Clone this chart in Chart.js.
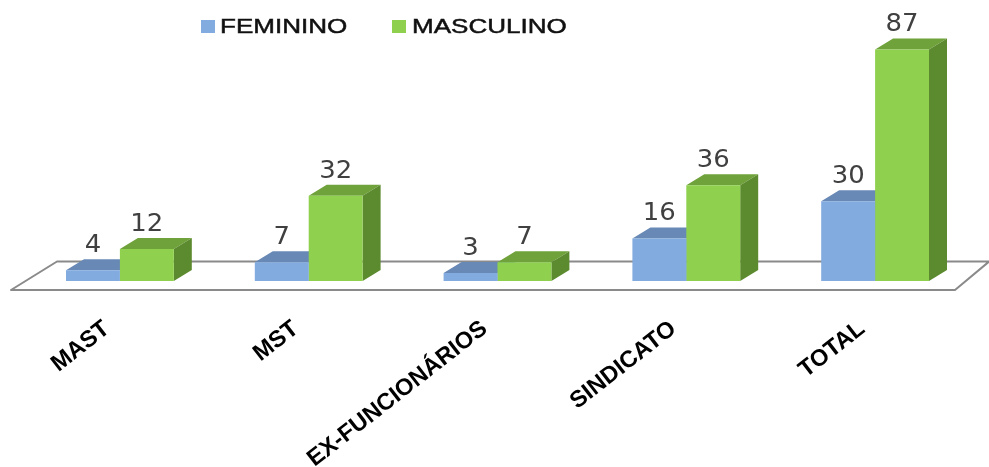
<!DOCTYPE html>
<html><head><meta charset="utf-8">
<style>html,body{margin:0;padding:0;background:#fff;overflow:hidden}
#w{position:relative;width:989px;height:467px}
canvas{filter:blur(0.5px)}</style>
<script src="https://cdn.jsdelivr.net/npm/chart.js@4"></script></head>
<body><div id="w"><canvas id="c" width="989" height="467"></canvas></div>
<script>
const categories = ['MAST','MST','EX-FUNCIONÁRIOS','SINDICATO','TOTAL'];
const feminino = [4,7,3,16,30];
const masculino = [12,32,7,36,87];
const seriesNames = ['FEMININO','MASCULINO'];
const frontColors = ['#82ABDF','#8FD14F'];
const topColors = ['#6888B5','#6FA23A'];
const sideColors = ['#6888B5','#5C8A2E'];
const DX = 18, DY = 11;

const bars3d = {
  id:'bars3d',
  beforeDatasetsDraw(chart){
    const ctx = chart.ctx, a = chart.chartArea, base = chart.scales.y.getPixelForValue(0);
    ctx.save();
    ctx.strokeStyle = '#8a8a8a'; ctx.lineWidth = 2; ctx.lineJoin='round';
    ctx.beginPath();
    ctx.moveTo(1000, base-19.5);
    ctx.lineTo(a.left+31.5, base-19.5);
    ctx.lineTo(a.left-14.5, base+9);
    ctx.lineTo(a.right-14.5, base+9);
    ctx.lineTo(1000, base-19.5-9);
    ctx.stroke();
    chart.data.datasets.forEach((ds,i)=>{
      chart.getDatasetMeta(i).data.forEach(b=>{
        const l=b.x-b.width/2, r=b.x+b.width/2, t=b.y, bt=b.base;
        ctx.fillStyle = topColors[i];
        ctx.beginPath();ctx.moveTo(l,t);ctx.lineTo(l+DX,t-DY);ctx.lineTo(r+DX,t-DY);ctx.lineTo(r,t);ctx.closePath();ctx.fill();
        ctx.fillStyle = sideColors[i];
        ctx.beginPath();ctx.moveTo(r,t);ctx.lineTo(r+DX,t-DY);ctx.lineTo(r+DX,bt-DY);ctx.lineTo(r,bt);ctx.closePath();ctx.fill();
      });
    });
    ctx.restore();
  },
  afterDatasetsDraw(chart){
    const ctx = chart.ctx;
    ctx.save();
    ctx.fillStyle='#404040';ctx.textAlign='center';ctx.textBaseline='alphabetic';
    ctx.font='24px "DejaVu Sans"';
    chart.data.datasets.forEach((ds,i)=>{
      chart.getDatasetMeta(i).data.forEach((b,j)=>{
        ctx.save();
        ctx.translate(b.x, b.y-18);
        ctx.scale(1.08,1);
        ctx.fillText(String(ds.data[j]), 0, 0);
        ctx.restore();
      });
    });
    ctx.restore();
  },
  afterDraw(chart){
    const ctx = chart.ctx, sx = 1.24;
    const items = [[201,220],[392,412]];
    ctx.save();
    chart.data.datasets.forEach((ds,i)=>{
      ctx.fillStyle = frontColors[i];
      ctx.fillRect(items[i][0],20,14,13);
      ctx.save();
      ctx.translate(items[i][1],33);
      ctx.scale(sx,1);
      ctx.fillStyle='#111';ctx.font='21px "Liberation Sans"';ctx.textAlign='left';ctx.textBaseline='alphabetic';
      ctx.lineWidth=0.5;ctx.strokeStyle='#111';
      ctx.fillText(ds.label,0,0);ctx.strokeText(ds.label,0,0);
      ctx.restore();
    });
    ctx.restore();
  }
};

new Chart(document.getElementById('c'),{
  type:'bar',
  data:{labels:categories,datasets:[
    {label:seriesNames[0],data:feminino,backgroundColor:frontColors[0],borderWidth:0},
    {label:seriesNames[1],data:masculino,backgroundColor:frontColors[1],borderWidth:0}
  ]},
  options:{
    responsive:false,animation:false,
    layout:{padding:{left:25.5,right:19.5,top:1.5,bottom:0}},
    plugins:{legend:{display:false},tooltip:{enabled:false}},
    datasets:{bar:{barPercentage:1,categoryPercentage:0.571}},
    scales:{
      y:{display:false,min:0,max:105},
      x:{
        grid:{display:false},border:{display:false},
        afterFit(s){s.height=186;},
        ticks:{color:'#000',autoSkip:false,minRotation:38,maxRotation:38,padding:26,labelOffset:-13,
          font:{family:'"Liberation Sans"',weight:'bold',size:23.5}}
      }
    }
  },
  plugins:[bars3d]
});
</script></body></html>
